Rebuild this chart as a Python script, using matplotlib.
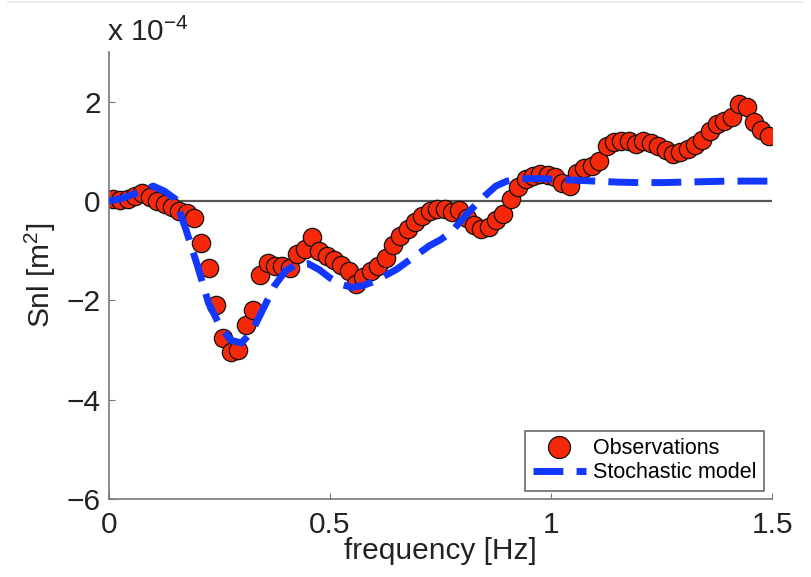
import numpy as np
import matplotlib
matplotlib.use("Agg")
import matplotlib.pyplot as plt
from matplotlib.lines import Line2D

plt.rcParams['font.family'] = ['Liberation Sans', 'DejaVu Sans']
plt.rcParams['mathtext.fontset'] = 'custom'
plt.rcParams['mathtext.rm'] = 'Liberation Sans'
plt.rcParams['mathtext.it'] = 'Liberation Sans'
plt.rcParams['mathtext.bf'] = 'Liberation Sans'

# Observed nonlinear source term (units of 1e-4 m^2), sampled every 1/60 Hz
obs_freq = 0.009 + np.arange(90) / 60.0
obs_snl = [
    0.03, 0.02, 0.05, 0.10, 0.16, 0.08, -0.01, -0.06, -0.12, -0.20,
    -0.25, -0.34, -0.85, -1.35, -2.10, -2.75, -3.05, -3.00, -2.50, -2.20,
    -1.50, -1.25, -1.30, -1.30, -1.35, -1.06, -0.96, -0.72, -1.00, -1.10,
    -1.18, -1.28, -1.40, -1.68, -1.54, -1.40, -1.30, -1.14, -0.88, -0.70,
    -0.56, -0.42, -0.30, -0.20, -0.16, -0.16, -0.22, -0.18, -0.35, -0.48,
    -0.56, -0.52, -0.38, -0.26, 0.05, 0.28, 0.44, 0.50, 0.54, 0.52,
    0.48, 0.36, 0.30, 0.56, 0.66, 0.70, 0.80, 1.10, 1.18, 1.20,
    1.20, 1.14, 1.20, 1.16, 1.10, 1.02, 0.94, 0.98, 1.04, 1.12,
    1.22, 1.40, 1.56, 1.62, 1.70, 1.96, 1.90, 1.60, 1.42, 1.30,
]

# Stochastic model prediction (units of 1e-4 m^2)
model_freq = [
    0.000, 0.025, 0.050, 0.075, 0.100, 0.125, 0.150, 0.175, 0.200, 0.225,
    0.250, 0.275, 0.300, 0.325, 0.350, 0.375, 0.400, 0.425, 0.450, 0.475,
    0.500, 0.525, 0.550, 0.575, 0.600, 0.625, 0.650, 0.675, 0.700, 0.725,
    0.750, 0.775, 0.800, 0.825, 0.850, 0.875, 0.900, 0.925, 0.950, 0.975,
    1.000, 1.050, 1.100, 1.150, 1.200, 1.250, 1.300, 1.350, 1.400, 1.450,
    1.490,
]
model_snl = [
    0.00, 0.04, 0.12, 0.20, 0.30, 0.20, 0.04, -0.60, -1.30, -2.05,
    -2.50, -2.80, -2.86, -2.60, -2.15, -1.70, -1.40, -1.28, -1.26, -1.38,
    -1.55, -1.68, -1.74, -1.70, -1.62, -1.50, -1.38, -1.22, -1.06, -0.90,
    -0.78, -0.62, -0.36, -0.12, 0.10, 0.30, 0.40, 0.44, 0.45, 0.45,
    0.44, 0.42, 0.40, 0.38, 0.37, 0.37, 0.38, 0.39, 0.40, 0.40,
    0.40,
]

x_ticks = [0, 0.5, 1, 1.5]
x_tick_labels = ['0', '0.5', '1', '1.5']
y_ticks = [-6, -4, -2, 0, 2]
y_tick_labels = ['\u22126', '\u22124', '\u22122', '0', '2']

fig = plt.figure(figsize=(8.11, 5.77), dpi=100)
ax = fig.add_axes([0.1344, 0.1352, 0.8176, 0.7747])

ax.plot([0, 1.5], [0, 0], color='#555555', lw=1.6, zorder=1)
ax.plot(obs_freq, obs_snl, linestyle='none', marker='o', ms=13.2,
        mfc='#f5280a', mec='#111111', mew=0.9, zorder=2, label='Observations')
ax.plot(model_freq, model_snl, color='#1238ff', lw=5, dashes=(4.3, 1.9),
        zorder=3, label='Stochastic model')

ax.set_xlim(0, 1.5)
ax.set_ylim(-6, 3)
ax.set_xticks(x_ticks)
ax.set_xticklabels(x_tick_labels)
ax.set_yticks(y_ticks)
ax.set_yticklabels(y_tick_labels)

for s in ['top', 'right']:
    ax.spines[s].set_visible(False)
for s in ['left', 'bottom']:
    ax.spines[s].set_color('#777777')
    ax.spines[s].set_linewidth(1.2)
ax.tick_params(direction='in', length=4, width=0.8, color='#777777',
               labelsize=21.5, labelcolor='#222222')
ax.tick_params(axis='x', pad=9)
ax.tick_params(axis='y', pad=6)

ax.set_xlabel('frequency [Hz]', fontsize=21.5, color='#222222', labelpad=-2)
ax.set_ylabel('Snl [m$^2$]', fontsize=21.5, color='#222222', labelpad=6)
ax.text(-0.003, 1.012, 'x 10$^{-4}$', transform=ax.transAxes, fontsize=21.5,
        color='#222222', ha='left', va='bottom')

leg = ax.legend(loc='lower right', fontsize=15.5, frameon=True, fancybox=False,
                edgecolor='#444444', borderpad=0.35, labelspacing=0.15,
                handlelength=2.5, handletextpad=0.3, borderaxespad=0.38,
                markerscale=1.2)
leg.get_frame().set_linewidth(1.2)

fig.add_artist(Line2D([0.01, 0.99], [0.996, 0.996], transform=fig.transFigure,
                      color='#eeeeee', lw=1.5))

fig.savefig('out.png', dpi=100)
